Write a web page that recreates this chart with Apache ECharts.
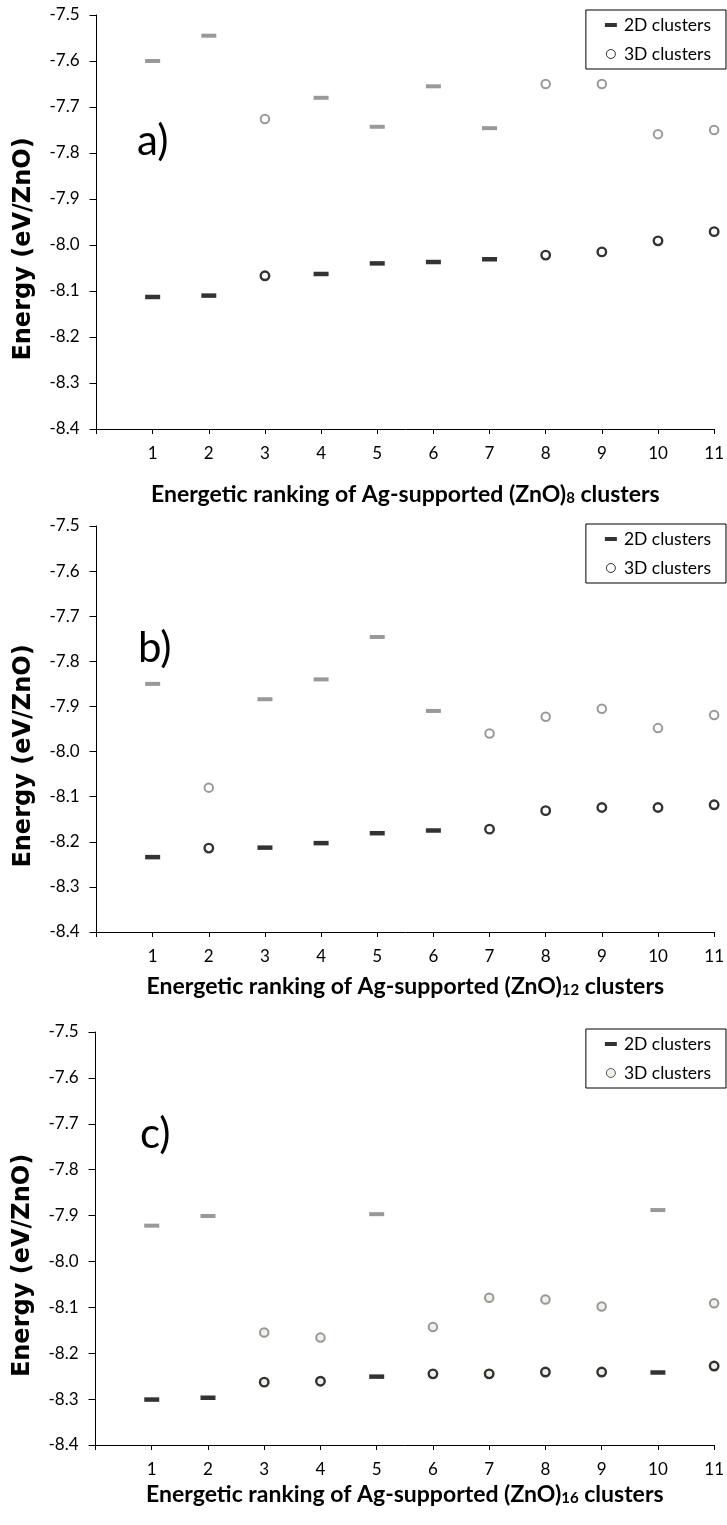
<!DOCTYPE html>
<html>
<head>
<meta charset="utf-8">
<title>Energetic ranking of Ag-supported (ZnO)n clusters</title>
<script src="https://cdn.jsdelivr.net/npm/echarts@6/dist/echarts.min.js"></script>
<style>
  html, body { margin: 0; padding: 0; background: #fff; }
  #chart { width: 727px; height: 1525px; }
</style>
</head>
<body>
<div id="chart"></div>
<script>
// energetic ranking on the x axis
const ranks = [1, 2, 3, 4, 5, 6, 7, 8, 9, 10, 11];

// a) (ZnO)8
const typesA = ['2D', '2D', '3D', '2D', '2D', '2D', '2D', '3D', '3D', '3D', '3D'];
const blackA = [-8.113, -8.110, -8.067, -8.063, -8.040, -8.037, -8.031, -8.022, -8.015, -7.991, -7.971];
const grayA  = [-7.600, -7.545, -7.726, -7.680, -7.743, -7.655, -7.746, -7.650, -7.650, -7.759, -7.750];

// b) (ZnO)12
const typesB = ['2D', '3D', '2D', '2D', '2D', '2D', '3D', '3D', '3D', '3D', '3D'];
const blackB = [-8.234, -8.214, -8.213, -8.203, -8.181, -8.175, -8.172, -8.131, -8.124, -8.124, -8.118];
const grayB  = [-7.850, -8.080, -7.884, -7.840, -7.746, -7.910, -7.960, -7.923, -7.905, -7.948, -7.919];

// c) (ZnO)16
const typesC = ['2D', '2D', '3D', '3D', '2D', '3D', '3D', '3D', '3D', '2D', '3D'];
const blackC = [-8.301, -8.297, -8.263, -8.261, -8.251, -8.245, -8.245, -8.241, -8.241, -8.242, -8.228];
const grayC  = [-7.922, -7.901, -8.155, -8.166, -7.897, -8.143, -8.079, -8.083, -8.098, -7.888, -8.091];

const panelLetters = ['a)', 'b)', 'c)'];
const clusterSizes = ['8', '12', '16'];
const yMin = -8.4, yMax = -7.5, yStep = 0.1;

const GRAY = '#808080';
const BEIGE = '#eeece1';
const FONT = 'Lato, "Open Sans", sans-serif';

const panels = [
  { types: typesA, black: blackA, gray: grayA, fill: '#ffffff', legendFill: '#ffffff', legendBorder: '#000' },
  { types: typesB, black: blackB, gray: grayB, fill: '#ffffff', legendFill: '#ffffff', legendBorder: '#000' },
  { types: typesC, black: blackC, gray: grayC, fill: BEIGE, legendFill: BEIGE, legendBorder: '#333' }
];

const grids = [
  { left: 96.5, top: 15, width: 619, height: 414 },
  { left: 96.5, top: 526, width: 619, height: 406 },
  { left: 95.5, top: 1032, width: 619, height: 413 }
];
const titleGaps = [54, 43, 38];
const letterPos = [[137, 143], [138, 650], [140, 1136]];
const legendTops = [10, 524, 1029];

function points(types, values, kind) {
  const out = [];
  ranks.forEach((r, i) => { if (types[i] === kind) out.push([r, values[i]]); });
  return out;
}

const chart = echarts.init(document.getElementById('chart'), null, { renderer: 'canvas' });

const xAxes = [], yAxes = [], series = [], legends = [], texts = [];

panels.forEach((p, i) => {
  xAxes.push({
    gridIndex: i, type: 'value', min: 0, max: ranks.length, interval: 1,
    name: 'Energetic ranking of Ag-supported (ZnO){sub|' + clusterSizes[i] + '} clusters',
    nameLocation: 'middle', nameGap: titleGaps[i],
    nameTextStyle: {
      fontFamily: FONT, fontWeight: 'bold', fontSize: 23, color: '#000',
      rich: { sub: { fontFamily: FONT, fontWeight: 'bold', fontSize: 15, lineHeight: 12, verticalAlign: 'bottom', color: '#000' } }
    },
    axisLine: { onZero: false, lineStyle: { color: '#000', width: 1 } },
    axisTick: { length: 5, lineStyle: { color: '#000' } },
    axisLabel: { fontFamily: FONT, fontSize: 17, color: '#000', margin: 16,
      formatter: v => (v === 0 ? '' : String(v)) },
    splitLine: { show: false }
  });
  yAxes.push({
    gridIndex: i, type: 'value', min: yMin, max: yMax, interval: yStep,
    name: 'Energy (eV/ZnO)', nameLocation: 'middle', nameGap: 61, nameRotate: 90,
    nameTextStyle: { fontFamily: '"DejaVu Sans", Verdana, sans-serif', fontWeight: 'bold', fontSize: 24,
      color: '#000', padding: [0, 54, 0, 0] },
    axisLine: { onZero: false, lineStyle: { color: '#000', width: 1 } },
    axisTick: { length: 7, lineStyle: { color: '#000' } },
    axisLabel: { fontFamily: FONT, fontSize: 17, color: '#000', margin: 17,
      formatter: v => v.toFixed(1) },
    splitLine: { show: false }
  });

  const common = { type: 'scatter', xAxisIndex: i, yAxisIndex: i, emphasis: { disabled: true } };
  series.push(
    Object.assign({}, common, { name: '2D clusters', symbol: 'rect', symbolSize: [15, 4],
      itemStyle: { color: GRAY }, data: points(p.types, p.gray, '2D') }),
    Object.assign({}, common, { name: '2D clusters', symbol: 'rect', symbolSize: [15, 4.5],
      itemStyle: { color: '#000' }, data: points(p.types, p.black, '2D') }),
    Object.assign({}, common, { name: '3D clusters', symbol: 'circle', symbolSize: 8.5,
      itemStyle: { color: p.fill, borderColor: GRAY, borderWidth: 2 }, data: points(p.types, p.gray, '3D') }),
    Object.assign({}, common, { name: '3D clusters', symbol: 'circle', symbolSize: 8.5,
      itemStyle: { color: p.fill, borderColor: '#000', borderWidth: 2.4 }, data: points(p.types, p.black, '3D') })
  );

  legends.push({
    orient: 'vertical', right: 1, top: legendTops[i],
    padding: [5, 15, 5, 19], itemGap: 9, itemWidth: 12, itemHeight: 9,
    borderColor: '#000', borderWidth: 1, backgroundColor: '#fff',
    selectedMode: false,
    textStyle: { fontFamily: FONT, fontSize: 17.5, color: '#000', padding: [0, 0, 0, 2], lineHeight: 20 },
    data: [
      { name: '2D clusters', icon: 'path://M0,0H12V4H0Z', itemStyle: { color: '#000', borderWidth: 0 } },
      { name: '3D clusters', icon: 'circle', itemStyle: { color: p.legendFill, borderColor: p.legendBorder, borderWidth: 1 } }
    ]
  });

  texts.push({
    type: 'text', left: letterPos[i][0], top: letterPos[i][1] - 23,
    style: { text: panelLetters[i], font: '42px Lato, "Open Sans", sans-serif', fill: '#000' }
  });
});

chart.setOption({
  animation: false,
  backgroundColor: '#fff',
  grid: grids,
  xAxis: xAxes,
  yAxis: yAxes,
  legend: legends,
  series: series,
  graphic: texts
});
</script>
</body>
</html>
